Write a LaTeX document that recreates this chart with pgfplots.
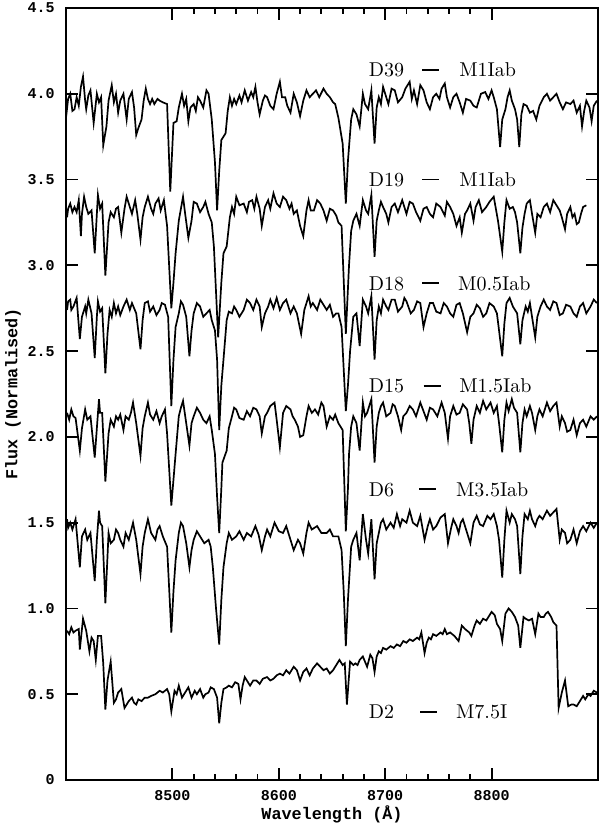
\documentclass[border=0pt]{standalone}
\usepackage{fontspec}
\usepackage{pgfplots}
\pgfplotsset{compat=1.18}
\newfontfamily\monob{Liberation Mono}
\newcommand\tickfont{\monob\bfseries\fontsize{7.5}{8}\selectfont}
\newcommand\labfont{\monob\bfseries\fontsize{8.4}{10}\selectfont}
\newcommand\namefont{\fontsize{12.8}{15}\selectfont}
\newcommand\dash{\rule[3pt]{8.5pt}{0.8pt}}
\begin{document}
\begin{tikzpicture}
\begin{axis}[
    scale only axis,
    width=266pt, height=386pt,
    xmin=8400, xmax=8900,
    ymin=0, ymax=4.5,
    xtick={8500,8600,8700,8800},
    xticklabels={8500,8600,8700,8800},
    minor x tick num=4,
    ytick={0,0.5,1,1.5,2,2.5,3,3.5,4,4.5},
    yticklabels={0,0.5,1.0,1.5,2.0,2.5,3.0,3.5,4.0,4.5},
    tick align=inside,
    major tick length=6pt,
    minor tick length=3pt,
    every tick/.style={black, line width=0.9pt},
    axis line style={line width=1pt},
    xticklabel style={font=\tickfont, inner sep=0pt, yshift=-5pt},
    yticklabel style={font=\tickfont, inner sep=0pt, xshift=-5.5pt},
    xlabel={Wavelength (Å)},
    ylabel={Flux (Normalised)},
    xlabel style={font=\labfont, at={(axis description cs:0.5,-0.044)}, anchor=center},
    ylabel style={font=\labfont, at={(axis description cs:-0.0996,0.5)}, anchor=center},
    spec/.style={black, line width=0.85pt, mark=none},
    name/.style={font=\namefont, inner sep=0pt},
]
% D39 - M1Iab
\addplot[spec] coordinates {
(8400,3.86)(8402,3.97)(8404,4.00)(8406,3.90)(8408,3.91)(8410,3.98)(8412,3.93)(8414,4.04)
(8416,4.10)(8418,3.96)(8419,3.91)(8421,3.99)(8423,4.02)(8426,3.83)(8429,4.00)(8431,3.95)
(8433,3.98)(8435,3.70)(8438,3.81)(8440,3.96)(8443,4.05)(8445,3.95)(8447,4.00)(8449,3.89)
(8451,3.96)(8454,4.00)(8457,3.85)(8459,3.97)(8462,4.01)(8464,3.92)(8466,3.76)(8468,3.80)
(8471,3.85)(8473,3.96)(8475,4.03)(8477,3.97)(8479,3.94)(8481,3.97)(8483,3.94)(8486,3.97)
(8488,3.96)(8491,3.95)(8495,3.94)(8498,3.43)(8501,3.83)(8504,3.84)(8506,3.92)(8509,4.00)
(8511,3.93)(8513,3.97)(8515,3.84)(8517,3.92)(8520,3.94)(8522,3.90)(8524,3.98)(8526,3.96)
(8529,3.92)(8532,4.02)(8534,4.00)(8537,3.85)(8540,3.60)(8542,3.32)(8544,3.55)(8546,3.73)
(8550,3.77)(8552,3.90)(8554,3.98)(8556,3.93)(8558,3.97)(8560,3.94)(8563,3.99)(8565,3.95)
(8568,4.02)(8571,3.96)(8574,4.01)(8576,3.98)(8578,4.04)(8580,3.95)(8582,3.88)(8585,3.96)
(8587,3.99)(8589,3.98)(8592,3.93)(8595,3.91)(8598,4.00)(8601,4.07)(8603,3.98)(8606,3.98)
(8608,3.93)(8611,3.89)(8614,4.00)(8617,3.95)(8620,3.87)(8623,3.96)(8626,4.02)(8629,3.98)
(8632,4.00)(8635,4.02)(8638,3.98)(8642,4.03)(8645,4.00)(8648,3.98)(8651,3.95)(8653,3.94)
(8656,3.86)(8660,3.71)(8663,3.36)(8665,3.61)(8668,3.85)(8670,3.91)(8673,3.88)(8676,3.81)
(8679,4.00)(8681,3.94)(8684,3.91)(8687,4.02)(8690,3.71)(8692,3.92)(8694,3.98)(8696,3.94)
(8698,4.04)(8701,3.98)(8703,3.94)(8706,4.03)(8709,4.02)(8712,3.95)(8716,3.98)(8719,4.03)
(8723,4.07)(8725,3.97)(8727,4.02)(8730,3.94)(8733,4.05)(8736,4.02)(8739,3.95)(8742,3.91)
(8745,3.98)(8748,4.00)(8751,3.97)(8753,4.03)(8756,4.06)(8758,3.98)(8761,3.92)(8764,3.98)
(8767,4.00)(8770,3.95)(8773,3.89)(8776,3.97)(8780,3.96)(8783,3.93)(8786,3.92)(8790,4.00)
(8794,4.01)(8797,3.97)(8800,4.02)(8802,3.98)(8805,3.91)(8808,3.69)(8810,3.85)(8813,3.91)
(8815,3.98)(8817,4.02)(8819,3.96)(8822,3.91)(8824,3.85)(8826,3.69)(8828,3.88)(8830,3.94)
(8833,3.93)(8836,3.89)(8839,3.90)(8842,3.85)(8845,3.93)(8849,3.98)(8852,4.00)(8855,3.96)
(8858,3.98)(8861,4.00)(8864,3.95)(8867,3.91)(8870,3.95)(8874,3.94)(8877,3.96)(8880,3.89)
(8883,3.93)(8885,3.81)(8887,3.90)(8889,3.96)(8892,3.92)(8894,3.84)(8896,3.93)(8899,3.96)
};
% D19 - M1Iab
\addplot[spec] coordinates {
(8401,3.28)(8402,3.33)(8404,3.36)(8406,3.31)(8408,3.34)(8410,3.31)(8412,3.38)(8414,3.17)
(8415,3.30)(8417,3.40)(8419,3.34)(8421,3.30)(8424,3.32)(8427,3.07)(8429,3.30)(8430,3.41)
(8432,3.33)(8434,3.36)(8437,2.94)(8440,3.25)(8442,3.31)(8445,3.28)(8447,3.33)(8449,3.34)
(8452,3.19)(8455,3.33)(8457,3.40)(8460,3.34)(8462,3.30)(8465,3.38)(8467,3.30)(8470,3.15)
(8472,3.28)(8474,3.34)(8477,3.40)(8480,3.33)(8482,3.30)(8484,3.36)(8487,3.39)(8489,3.32)
(8492,3.38)(8495,3.23)(8499,2.75)(8501,2.90)(8503,3.07)(8506,3.26)(8508,3.33)(8510,3.40)
(8512,3.30)(8515,3.16)(8518,3.26)(8520,3.37)(8523,3.36)(8526,3.31)(8529,3.34)(8531,3.37)
(8534,3.30)(8537,3.25)(8539,3.11)(8543,2.58)(8546,2.90)(8548,3.07)(8551,3.11)(8554,3.28)
(8556,3.34)(8558,3.30)(8560,3.40)(8563,3.35)(8567,3.36)(8570,3.31)(8572,3.37)(8575,3.38)
(8577,3.33)(8579,3.40)(8582,3.33)(8584,3.23)(8587,3.34)(8590,3.38)(8592,3.33)(8595,3.42)
(8598,3.36)(8601,3.34)(8604,3.40)(8607,3.38)(8610,3.33)(8612,3.36)(8614,3.30)(8617,3.32)
(8620,3.23)(8623,3.17)(8626,3.32)(8628,3.38)(8630,3.32)(8633,3.32)(8636,3.38)(8639,3.36)
(8642,3.32)(8645,3.26)(8648,3.33)(8651,3.32)(8654,3.29)(8656,3.25)(8659,3.23)(8663,2.60)
(8666,3.00)(8668,3.20)(8670,3.26)(8673,3.30)(8676,3.23)(8679,3.38)(8682,3.32)(8684,3.30)
(8687,3.41)(8690,3.05)(8692,3.26)(8694,3.32)(8696,3.37)(8698,3.34)(8701,3.30)(8703,3.25)
(8706,3.34)(8709,3.36)(8712,3.31)(8716,3.38)(8718,3.34)(8720,3.30)(8723,3.37)(8726,3.36)
(8729,3.31)(8733,3.26)(8736,3.33)(8739,3.34)(8742,3.30)(8745,3.28)(8748,3.36)(8752,3.34)
(8756,3.29)(8758,3.37)(8761,3.34)(8764,3.30)(8767,3.23)(8770,3.28)(8772,3.19)(8775,3.30)
(8777,3.32)(8780,3.36)(8783,3.26)(8785,3.34)(8788,3.38)(8791,3.31)(8795,3.34)(8798,3.37)
(8802,3.40)(8804,3.33)(8806,3.26)(8810,3.08)(8812,3.25)(8814,3.38)(8817,3.33)(8820,3.34)
(8822,3.31)(8824,3.25)(8827,3.07)(8829,3.22)(8831,3.30)(8833,3.36)(8836,3.38)(8838,3.30)
(8841,3.19)(8843,3.30)(8846,3.28)(8849,3.34)(8852,3.36)(8855,3.31)(8858,3.38)(8861,3.35)
(8864,3.32)(8866,3.28)(8869,3.21)(8871,3.30)(8874,3.34)(8876,3.28)(8878,3.30)(8880,3.24)
(8882,3.25)(8884,3.30)(8886,3.34)(8889,3.35)
};
% D18 - M0.5Iab
\addplot[spec] coordinates {
(8401,2.74)(8402,2.79)(8404,2.80)(8405,2.74)(8407,2.76)(8410,2.81)(8413,2.57)(8415,2.70)
(8418,2.76)(8419,2.72)(8421,2.80)(8424,2.72)(8427,2.46)(8429,2.70)(8430,2.79)(8432,2.73)
(8434,2.75)(8437,2.37)(8439,2.60)(8441,2.74)(8443,2.70)(8445,2.78)(8447,2.72)(8449,2.76)
(8451,2.71)(8454,2.76)(8457,2.80)(8460,2.74)(8462,2.78)(8464,2.75)(8466,2.72)(8470,2.51)
(8472,2.68)(8474,2.78)(8477,2.79)(8479,2.73)(8482,2.76)(8485,2.71)(8488,2.74)(8490,2.78)
(8493,2.77)(8496,2.70)(8499,2.18)(8501,2.45)(8503,2.64)(8506,2.72)(8508,2.79)(8510,2.77)
(8513,2.70)(8516,2.47)(8518,2.62)(8520,2.72)(8523,2.78)(8526,2.76)(8529,2.70)(8532,2.72)
(8535,2.74)(8537,2.68)(8540,2.62)(8542,2.45)(8544,2.04)(8546,2.30)(8548,2.45)(8551,2.68)
(8553,2.73)(8556,2.72)(8558,2.76)(8560,2.74)(8563,2.70)(8567,2.74)(8570,2.80)(8573,2.78)
(8576,2.74)(8579,2.80)(8582,2.76)(8584,2.64)(8587,2.72)(8590,2.76)(8592,2.80)(8595,2.75)
(8598,2.81)(8601,2.74)(8604,2.78)(8607,2.80)(8611,2.72)(8614,2.76)(8617,2.72)(8621,2.60)
(8624,2.74)(8628,2.82)(8630,2.76)(8632,2.78)(8636,2.74)(8639,2.80)(8642,2.77)(8645,2.74)
(8648,2.77)(8651,2.70)(8654,2.72)(8656,2.72)(8659,2.64)(8663,2.15)(8665,2.30)(8667,2.50)
(8670,2.70)(8673,2.72)(8676,2.53)(8679,2.80)(8682,2.76)(8684,2.72)(8687,2.82)(8690,2.45)
(8692,2.68)(8694,2.76)(8696,2.72)(8698,2.80)(8701,2.76)(8703,2.74)(8706,2.80)(8709,2.80)
(8712,2.73)(8716,2.76)(8718,2.81)(8720,2.79)(8724,2.72)(8727,2.74)(8730,2.79)(8733,2.78)
(8736,2.64)(8739,2.72)(8742,2.78)(8745,2.78)(8748,2.73)(8752,2.72)(8755,2.78)(8758,2.76)
(8761,2.72)(8764,2.70)(8767,2.77)(8770,2.78)(8773,2.72)(8777,2.61)(8780,2.70)(8783,2.72)
(8786,2.77)(8789,2.75)(8792,2.70)(8795,2.72)(8798,2.78)(8802,2.76)(8805,2.72)(8807,2.62)
(8810,2.47)(8812,2.66)(8814,2.78)(8817,2.81)(8820,2.76)(8824,2.72)(8827,2.54)(8829,2.68)
(8832,2.76)(8834,2.73)(8836,2.78)(8838,2.70)(8841,2.58)(8843,2.70)(8846,2.76)(8849,2.80)
(8852,2.76)(8855,2.74)(8858,2.79)(8861,2.78)(8864,2.71)(8867,2.72)(8870,2.77)(8874,2.76)
(8877,2.72)(8880,2.70)(8883,2.76)(8886,2.78)(8889,2.72)(8893,2.76)(8896,2.80)(8899,2.78)
};
% D15 - M1.5Iab
\addplot[spec] coordinates {
(8401,2.14)(8403,2.10)(8405,2.16)(8407,2.12)(8409,2.11)(8413,1.92)(8415,2.05)(8418,2.16)
(8420,2.10)(8423,2.12)(8427,1.88)(8429,2.05)(8431,2.22)(8432,2.14)(8434,2.14)(8437,1.74)
(8440,2.02)(8442,2.10)(8445,2.06)(8447,2.12)(8449,2.10)(8451,2.13)(8454,2.04)(8456,2.12)
(8459,2.10)(8461,2.14)(8463,2.20)(8466,2.08)(8470,1.89)(8472,2.05)(8474,2.12)(8477,2.20)
(8479,2.13)(8482,2.10)(8485,2.15)(8488,2.08)(8490,2.12)(8493,2.16)(8495,2.02)(8499,1.60)
(8501,1.75)(8503,1.90)(8506,2.12)(8508,2.17)(8510,2.21)(8513,2.08)(8516,1.95)(8518,2.08)
(8520,2.12)(8523,2.17)(8526,2.14)(8529,2.10)(8532,2.08)(8535,2.12)(8537,2.04)(8540,1.90)
(8542,1.65)(8544,1.44)(8546,1.70)(8547,1.85)(8551,1.92)(8553,2.05)(8556,2.12)(8558,2.17)
(8560,2.16)(8563,2.11)(8567,2.10)(8570,2.15)(8573,2.12)(8576,2.17)(8579,2.16)(8582,2.12)
(8584,2.02)(8587,2.12)(8589,2.14)(8592,2.18)(8596,2.20)(8598,2.10)(8601,1.94)(8604,2.14)
(8607,2.18)(8611,2.16)(8613,2.12)(8615,2.10)(8618,2.06)(8620,2.00)(8623,2.01)(8626,2.12)
(8628,2.18)(8631,2.14)(8634,2.16)(8637,2.13)(8640,2.20)(8642,2.18)(8645,2.06)(8648,2.12)
(8651,2.10)(8653,2.13)(8656,2.08)(8660,2.04)(8663,1.45)(8665,1.70)(8666,1.90)(8668,2.06)
(8670,2.12)(8673,2.08)(8676,1.92)(8679,2.20)(8681,2.12)(8683,2.14)(8687,2.22)(8690,1.85)
(8692,2.06)(8694,2.14)(8696,2.18)(8698,2.20)(8701,2.12)(8705,2.14)(8707,2.19)(8709,2.18)
(8712,2.12)(8715,2.04)(8717,2.12)(8720,2.14)(8723,2.18)(8726,2.16)(8729,2.12)(8733,2.20)
(8736,2.15)(8739,2.10)(8742,2.17)(8745,2.16)(8749,2.12)(8753,2.20)(8756,2.14)(8759,1.99)
(8761,2.12)(8764,2.18)(8767,2.13)(8770,2.14)(8773,2.19)(8777,2.16)(8779,2.08)(8781,1.96)
(8783,2.10)(8786,2.18)(8789,2.14)(8792,2.21)(8795,2.16)(8799,2.20)(8802,2.14)(8805,2.18)
(8807,2.08)(8810,1.91)(8812,2.10)(8814,2.20)(8816,2.15)(8819,2.22)(8821,2.17)(8824,2.14)
(8827,1.91)(8829,2.08)(8831,2.16)(8833,2.12)(8836,2.18)(8838,2.14)(8841,2.04)(8843,2.12)
(8845,2.16)(8848,2.12)(8852,2.20)(8855,2.15)(8858,2.18)(8861,2.20)(8864,2.06)(8866,2.12)
(8869,2.08)(8871,2.03)(8874,2.04)(8877,2.10)(8880,2.01)(8883,2.08)(8886,2.10)(8889,2.06)
(8893,2.12)(8896,2.10)(8899,2.12)
};
% D6 - M3.5Iab
\addplot[spec] coordinates {
(8401,1.52)(8402,1.47)(8404,1.50)(8406,1.46)(8409,1.52)(8413,1.24)(8415,1.42)(8418,1.46)
(8420,1.40)(8423,1.44)(8427,1.16)(8429,1.40)(8431,1.57)(8432,1.50)(8434,1.48)(8437,1.03)
(8440,1.44)(8442,1.38)(8445,1.40)(8447,1.46)(8449,1.44)(8451,1.40)(8454,1.36)(8456,1.44)
(8459,1.40)(8461,1.45)(8463,1.50)(8466,1.40)(8470,1.20)(8472,1.36)(8474,1.44)(8477,1.52)
(8480,1.44)(8484,1.40)(8486,1.46)(8488,1.48)(8491,1.42)(8495,1.36)(8499,0.86)(8501,1.10)
(8503,1.28)(8506,1.44)(8508,1.50)(8510,1.48)(8513,1.38)(8516,1.24)(8518,1.34)(8520,1.40)
(8523,1.45)(8526,1.42)(8530,1.38)(8534,1.40)(8536,1.36)(8538,1.24)(8541,1.00)(8544,0.79)
(8546,1.05)(8548,1.24)(8551,1.38)(8553,1.44)(8556,1.40)(8560,1.42)(8563,1.45)(8567,1.40)
(8570,1.44)(8574,1.42)(8578,1.48)(8581,1.43)(8584,1.34)(8587,1.42)(8589,1.46)(8592,1.42)
(8596,1.50)(8600,1.45)(8604,1.44)(8607,1.48)(8611,1.40)(8614,1.34)(8618,1.40)(8620,1.38)
(8623,1.32)(8626,1.44)(8628,1.50)(8631,1.46)(8636,1.48)(8640,1.44)(8645,1.44)(8648,1.46)
(8651,1.42)(8654,1.42)(8656,1.42)(8659,1.34)(8661,1.10)(8663,0.78)(8665,1.05)(8668,1.36)
(8670,1.40)(8673,1.44)(8676,1.28)(8679,1.55)(8682,1.40)(8684,1.32)(8687,1.52)(8690,1.17)
(8692,1.38)(8694,1.44)(8696,1.50)(8698,1.52)(8701,1.46)(8705,1.50)(8708,1.47)(8711,1.55)
(8714,1.48)(8716,1.52)(8720,1.50)(8723,1.57)(8726,1.50)(8730,1.48)(8733,1.54)(8737,1.40)
(8740,1.48)(8742,1.52)(8745,1.46)(8748,1.48)(8752,1.53)(8756,1.55)(8759,1.38)(8762,1.47)
(8764,1.52)(8767,1.48)(8769,1.44)(8771,1.50)(8773,1.52)(8776,1.46)(8780,1.38)(8783,1.50)
(8786,1.54)(8789,1.49)(8792,1.48)(8796,1.54)(8799,1.52)(8802,1.55)(8805,1.48)(8807,1.40)
(8810,1.18)(8812,1.40)(8814,1.57)(8817,1.50)(8819,1.55)(8822,1.52)(8824,1.48)(8827,1.20)
(8829,1.42)(8831,1.55)(8834,1.52)(8836,1.57)(8838,1.52)(8841,1.48)(8843,1.52)(8845,1.54)
(8848,1.52)(8852,1.57)(8855,1.54)(8858,1.56)(8861,1.58)(8864,1.40)(8866,1.46)(8869,1.44)
(8871,1.38)(8874,1.40)(8877,1.46)(8880,1.38)(8883,1.45)(8886,1.48)(8889,1.45)(8893,1.50)
(8896,1.47)(8899,1.50)
};
% D2 - M7.5I
\addplot[spec] coordinates {
(8401,0.87)(8403,0.85)(8405,0.89)(8407,0.86)(8409,0.87)(8412,0.88)(8413,0.76)(8416,0.94)
(8419,0.87)(8422,0.75)(8424,0.83)(8426,0.81)(8428,0.70)(8430,0.84)(8433,0.84)(8435,0.68)
(8437,0.41)(8439,0.58)(8442,0.69)(8445,0.45)(8447,0.47)(8449,0.51)(8452,0.53)(8455,0.42)
(8457,0.44)(8459,0.46)(8462,0.48)(8464,0.45)(8466,0.44)(8468,0.47)(8471,0.46)(8474,0.48)
(8477,0.48)(8480,0.49)(8484,0.50)(8486,0.51)(8488,0.52)(8491,0.51)(8495,0.53)(8497,0.50)
(8499,0.40)(8502,0.52)(8504,0.50)(8506,0.55)(8509,0.48)(8511,0.50)(8513,0.52)(8515,0.54)
(8518,0.48)(8521,0.52)(8523,0.50)(8526,0.53)(8529,0.48)(8531,0.50)(8534,0.51)(8536,0.54)
(8539,0.53)(8542,0.48)(8544,0.33)(8546,0.45)(8548,0.53)(8551,0.54)(8553,0.55)(8556,0.54)
(8559,0.57)(8562,0.56)(8564,0.47)(8566,0.55)(8568,0.60)(8571,0.57)(8573,0.55)(8576,0.58)
(8579,0.58)(8582,0.56)(8585,0.59)(8589,0.60)(8592,0.58)(8595,0.59)(8598,0.61)(8601,0.62)
(8604,0.61)(8607,0.64)(8610,0.62)(8614,0.66)(8617,0.64)(8620,0.58)(8623,0.63)(8626,0.65)
(8629,0.61)(8632,0.65)(8636,0.68)(8639,0.66)(8642,0.64)(8645,0.65)(8648,0.62)(8651,0.64)
(8653,0.66)(8657,0.70)(8660,0.67)(8662,0.68)(8664,0.44)(8667,0.69)(8670,0.67)(8672,0.68)
(8674,0.67)(8676,0.70)(8679,0.72)(8681,0.69)(8683,0.66)(8686,0.73)(8688,0.71)(8690,0.63)
(8692,0.72)(8694,0.75)(8696,0.74)(8698,0.77)(8701,0.76)(8705,0.78)(8708,0.77)(8711,0.79)
(8714,0.78)(8717,0.81)(8720,0.80)(8723,0.82)(8726,0.81)(8730,0.83)(8732,0.82)(8734,0.86)
(8737,0.74)(8739,0.80)(8741,0.83)(8743,0.82)(8745,0.85)(8748,0.84)(8752,0.86)(8754,0.85)
(8756,0.88)(8758,0.85)(8761,0.86)(8765,0.84)(8769,0.81)(8772,0.90)(8775,0.88)(8777,0.87)
(8779,0.86)(8781,0.84)(8784,0.90)(8786,0.93)(8789,0.91)(8792,0.94)(8795,0.93)(8797,0.95)
(8800,0.98)(8803,0.96)(8805,0.91)(8808,0.88)(8810,0.81)(8813,0.97)(8816,1.00)(8819,0.98)
(8822,0.95)(8825,0.90)(8827,0.77)(8830,0.95)(8832,0.94)(8835,0.93)(8838,0.94)(8841,0.85)
(8844,0.97)(8846,0.95)(8849,0.95)(8851,0.97)(8853,0.98)(8856,0.95)(8858,0.92)(8861,0.90)
(8863,0.42)(8866,0.51)(8869,0.58)(8872,0.43)(8875,0.44)(8877,0.44)(8880,0.43)(8882,0.45)
(8884,0.47)(8886,0.49)(8888,0.47)(8891,0.50)(8893,0.49)(8896,0.52)(8899,0.51)
};
% star names and spectral types
\node[name, anchor=base west] at (axis cs:8678,4.10) {D39};
\node[name, anchor=base] at (axis cs:8743,4.10) {\dash};
\node[name, anchor=base west] at (axis cs:8763,4.10) {M1Iab};
\node[name, anchor=base west] at (axis cs:8678,3.46) {D19};
\node[name, anchor=base] at (axis cs:8743,3.46) {\dash};
\node[name, anchor=base west] at (axis cs:8763,3.46) {M1Iab};
\node[name, anchor=base west] at (axis cs:8678,2.856) {D18};
\node[name, anchor=base] at (axis cs:8743,2.856) {\dash};
\node[name, anchor=base west] at (axis cs:8762,2.856) {M0.5Iab};
\node[name, anchor=base west] at (axis cs:8678,2.256) {D15};
\node[name, anchor=base] at (axis cs:8744,2.256) {\dash};
\node[name, anchor=base west] at (axis cs:8763,2.256) {M1.5Iab};
\node[name, anchor=base west] at (axis cs:8678,1.655) {D6};
\node[name, anchor=base] at (axis cs:8740,1.655) {\dash};
\node[name, anchor=base west] at (axis cs:8760,1.655) {M3.5Iab};
\node[name, anchor=base west] at (axis cs:8678,0.356) {D2};
\node[name, anchor=base] at (axis cs:8741,0.356) {\dash};
\node[name, anchor=base west] at (axis cs:8760,0.356) {M7.5I};
\end{axis}
\pgfresetboundingbox
\path ([xshift=-33pt,yshift=-25pt]current axis.south west) rectangle ([xshift=1pt,yshift=4pt]current axis.north east);
\end{tikzpicture}
\end{document}
